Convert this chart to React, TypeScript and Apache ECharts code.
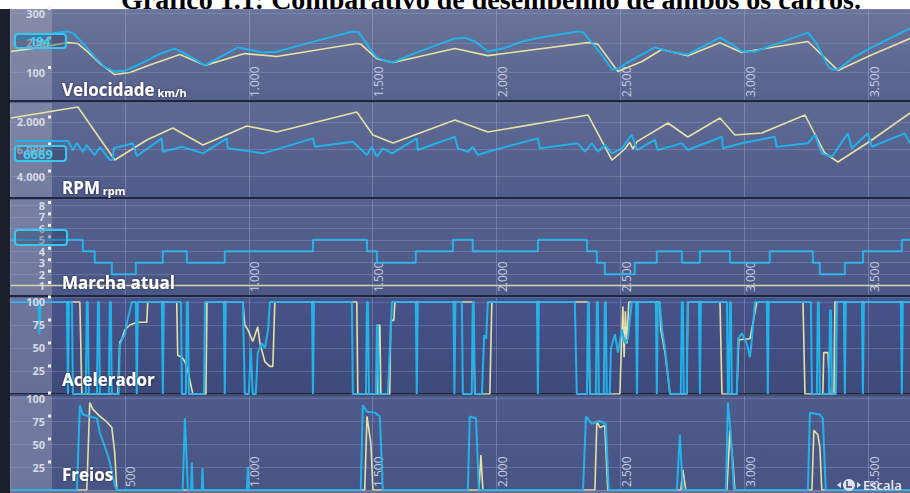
import { useEffect, useRef } from "react";
import * as echarts from "echarts";

// Distance axis (metres)
const X_MIN = 36;
const X_MAX = 3669;
const X_TICKS = [500, 1000, 1500, 2000, 2500, 3000, 3500];
const X_TICK_LABELS = ["500", "1.000", "1.500", "2.000", "2.500", "3.000", "3.500"];

const SPEED_TICKS = [100, 200, 300];
const SPEED_TICK_LABELS = ["100", "200", "300"];
const RPM_TICKS = [4000, 6000, 8000];
const RPM_TICK_LABELS = ["4.000", "6.000", "2.000"];
const GEAR_TICKS = [1, 2, 3, 4, 5, 6, 7, 8];
const GEAR_TICK_LABELS = ["1", "2", "3", "4", "5", "6", "7", "8"];
const PEDAL_TICKS = [25, 50, 75, 100];
const PEDAL_TICK_LABELS = ["25", "50", "75", "100"];

const PANEL_TITLES = ["Velocidade", "RPM", "Marcha atual", "Acelerador", "Freios"];
const PANEL_UNITS = ["km/h", "rpm", "", "", ""];

type Pt = [number, number];

// Velocidade (km/h)
const speedBlue: Pt[] = [
  [56, 214], [150, 222], [237, 236], [270, 239], [292, 232], [338, 192], [378, 152],
  [419, 118], [459, 103], [500, 106], [560, 128], [641, 163], [701, 181], [730, 170],
  [823, 124], [900, 160], [956, 185], [1000, 177], [1057, 168], [1113, 170], [1250, 202],
  [1420, 239], [1444, 236], [1500, 168], [1517, 151], [1549, 140], [1582, 134], [1660, 162],
  [1750, 190], [1832, 215], [1872, 218], [1913, 205], [1965, 171], [2030, 182], [2102, 205],
  [2200, 222], [2328, 239], [2350, 236], [2420, 165], [2466, 110], [2490, 112], [2530, 134],
  [2639, 185], [2700, 170], [2772, 161], [2902, 218], [2950, 195], [2990, 171], [3043, 171],
  [3257, 235], [3290, 200], [3340, 118], [3354, 110], [3378, 110], [3440, 150], [3515, 185],
  [3669, 249],
];
const speedYellow: Pt[] = [
  [40, 171], [157, 185], [270, 201], [310, 198], [350, 170], [400, 130], [459, 93],
  [520, 100], [600, 125], [722, 161], [823, 124], [984, 164], [1113, 154], [1436, 198],
  [1452, 196], [1517, 147], [1582, 134], [1832, 181], [1965, 157], [2369, 201], [2409, 196],
  [2490, 103], [2587, 137], [2667, 178], [2772, 157], [2902, 201], [2990, 168], [3257, 205],
  [3378, 107], [3515, 160], [3669, 215],
];

// RPM
const rpmBlue: Pt[] = [
  [56, 6600], [270, 6593], [290, 5926], [306, 6444], [330, 5778], [346, 6296], [378, 5556],
  [399, 6148], [439, 5185], [451, 5200], [455, 6052], [532, 6420], [548, 5481], [649, 6790],
  [653, 5800], [730, 6170], [815, 5680], [911, 6790], [915, 6050], [1057, 5680], [1259, 6790],
  [1267, 6170], [1420, 6540], [1477, 5556], [1497, 6170], [1517, 5430], [1541, 6050],
  [1578, 5680], [1678, 6790], [1682, 5926], [1832, 6910], [1844, 6050], [1884, 5800],
  [1904, 6170], [1925, 5556], [1965, 5800], [2167, 6790], [2175, 6050], [2328, 6420],
  [2357, 5800], [2385, 6420], [2409, 5800], [2437, 6300], [2466, 5680], [2506, 6050],
  [2530, 6670], [2546, 7040], [2567, 5926], [2639, 6670], [2651, 5926], [2748, 6420],
  [2772, 5926], [2910, 6910], [2914, 6050], [2990, 6420], [3123, 6910], [3131, 6170],
  [3257, 6420], [3285, 7040], [3313, 5680], [3354, 5430], [3418, 7160], [3434, 6050],
  [3499, 7160], [3515, 6170], [3648, 7160], [3669, 6420],
];
const rpmYellow: Pt[] = [
  [40, 8296], [310, 9111], [459, 5185], [588, 6667], [693, 7555], [815, 6296], [992, 7704],
  [1113, 7259], [1436, 8740], [1501, 7037], [1582, 6444], [1832, 8148], [1965, 7259],
  [2369, 8518], [2466, 5185], [2518, 6000], [2538, 6500], [2550, 6000], [2567, 6550],
  [2692, 7926], [2772, 6889], [2902, 8296], [2962, 7037], [3071, 7185], [3245, 8518],
  [3325, 5704], [3378, 5037], [3515, 6667], [3669, 8667],
];

// Marcha atual (gear changes: distance where the new gear starts)
const gearBlue: Pt[] = [
  [40, 5], [330, 4], [378, 3], [447, 2], [544, 3], [653, 4], [750, 3], [903, 4], [1259, 5],
  [1477, 4], [1517, 3], [1674, 4], [1824, 5], [1904, 4], [2167, 5], [2365, 4], [2405, 3],
  [2437, 2], [2558, 3], [2647, 4], [2748, 3], [2821, 4], [2942, 3], [3103, 4], [3277, 3],
  [3305, 2], [3406, 3], [3479, 4], [3636, 5], [3669, 5],
];
const gearYellow: Pt[] = [[40, 1], [3669, 1]];

// Acelerador (%)
const throttleBlue: Pt[] = [
  [40, 100], [150, 100], [155, 65], [160, 100],
  [266, 100], [270, 0], [274, 100], [286, 100], [290, 0],
  [342, 0], [346, 100], [350, 100], [354, 0],
  [387, 0], [391, 100], [395, 100], [399, 0],
  [435, 0], [439, 100], [443, 100], [447, 0],
  [475, 0], [479, 53], [490, 60], [500, 65], [510, 80], [528, 100],
  [544, 100], [548, 0], [552, 100],
  [649, 100], [653, 0], [657, 100],
  [726, 100], [730, 0], [746, 0], [750, 100], [754, 100], [758, 0],
  [819, 0], [823, 100],
  [899, 100], [903, 0], [907, 100],
  [976, 100], [984, 0], [1000, 0], [1008, 50], [1016, 0], [1028, 0], [1036, 45], [1053, 55],
  [1065, 50], [1078, 70], [1085, 100],
  [1255, 100], [1259, 0], [1263, 100],
  [1416, 100], [1420, 0],
  [1473, 0], [1477, 100], [1481, 100], [1485, 0],
  [1513, 0], [1517, 75], [1521, 75], [1525, 0],
  [1561, 0], [1578, 100],
  [1674, 100], [1678, 0], [1682, 100],
  [1826, 100], [1830, 0], [1834, 100],
  [1860, 100], [1864, 0], [1900, 0], [1904, 100], [1908, 100], [1912, 0], [1941, 0],
  [1950, 64], [1958, 60], [1965, 100],
  [2163, 100], [2167, 0], [2171, 100],
  [2316, 100], [2324, 0],
  [2365, 0], [2369, 100], [2373, 100], [2377, 0],
  [2401, 0], [2405, 100], [2409, 100], [2413, 0],
  [2433, 0], [2437, 100], [2441, 100], [2445, 0],
  [2457, 0], [2462, 50], [2478, 65], [2490, 45], [2506, 70], [2518, 55], [2530, 60], [2546, 100],
  [2563, 100], [2567, 0], [2571, 100],
  [2643, 100], [2647, 0], [2651, 100],
  [2659, 100], [2668, 70], [2680, 50], [2700, 0],
  [2744, 0], [2748, 100], [2752, 100], [2756, 0],
  [2768, 0], [2772, 100],
  [2817, 100], [2821, 0], [2825, 100],
  [2930, 100], [2934, 0],
  [2938, 0], [2942, 100], [2946, 100], [2950, 0],
  [2970, 0], [2975, 60], [2990, 66], [3010, 55], [3023, 40], [3031, 60], [3043, 100],
  [3091, 100], [3095, 0], [3099, 100],
  [3269, 100], [3273, 0],
  [3293, 0], [3297, 100], [3301, 100], [3305, 0],
  [3342, 0], [3346, 91], [3350, 91], [3354, 0],
  [3370, 0], [3374, 100],
  [3402, 100], [3406, 0], [3410, 100],
  [3475, 100], [3479, 0], [3483, 100],
  [3632, 100], [3636, 0], [3640, 100],
  [3669, 100],
];
const throttleYellow: Pt[] = [
  [40, 100], [318, 100], [326, 0],
  [471, 0], [479, 56], [488, 60], [500, 70], [520, 75], [548, 78], [588, 78], [592, 100],
  [709, 100], [713, 42], [730, 40], [742, 35], [754, 25], [766, 10], [774, 0],
  [827, 0], [831, 100],
  [976, 100], [984, 75], [996, 70], [1016, 57], [1036, 73], [1045, 55], [1065, 35],
  [1085, 30], [1097, 30], [1105, 100],
  [1436, 100], [1440, 0],
  [1521, 0], [1525, 75], [1529, 75], [1533, 0],
  [1569, 0], [1573, 80], [1585, 80], [1590, 100],
  [1904, 100], [1913, 0],
  [1973, 0], [1981, 100],
  [2369, 100], [2377, 0],
  [2498, 0], [2505, 60], [2510, 95], [2515, 40], [2520, 90], [2526, 55], [2534, 100],
  [2659, 100], [2663, 70], [2680, 45], [2700, 0],
  [2768, 0], [2772, 100],
  [2902, 100], [2910, 0],
  [2970, 0], [2978, 59], [3023, 60], [3051, 100],
  [3237, 100], [3245, 0],
  [3317, 0], [3321, 45], [3338, 45], [3345, 0],
  [3362, 0], [3366, 100],
  [3669, 100],
];

// Freios (%)
const brakeBlue: Pt[] = [
  [40, 0], [306, 0], [318, 92], [330, 82], [358, 80], [387, 78], [399, 62], [427, 41],
  [439, 30], [459, 5], [467, 0],
  [733, 0], [742, 78], [754, 0], [767, 0], [770, 30], [773, 0], [810, 0], [813, 24], [816, 0],
  [992, 0], [996, 25], [1000, 0],
  [1452, 0], [1460, 92], [1477, 85], [1509, 84], [1529, 80], [1541, 0],
  [1884, 0], [1892, 80], [1917, 78], [1929, 0],
  [2349, 0], [2361, 80], [2385, 72], [2417, 75], [2441, 72], [2453, 0],
  [2728, 0], [2740, 60], [2752, 0],
  [2926, 0], [2934, 95], [2946, 60], [2958, 0],
  [3257, 0], [3265, 84], [3305, 82], [3317, 78], [3329, 0],
  [3669, 0],
];
const brakeYellow: Pt[] = [
  [40, 0], [346, 0], [358, 95], [370, 88], [399, 80], [427, 74], [447, 68], [459, 40], [467, 0],
  [1468, 0], [1477, 80], [1485, 65], [1493, 50], [1501, 0],
  [1929, 0], [1937, 38], [1945, 0],
  [2397, 0], [2405, 75], [2417, 68], [2437, 70], [2449, 0],
  [2744, 0], [2752, 22], [2764, 0],
  [2930, 0], [2942, 65], [2954, 30], [2962, 0],
  [3273, 0], [3281, 65], [3297, 60], [3305, 47], [3313, 0],
  [3669, 0],
];

const BLUE = "#22b2ea";
const YELLOW = "#e4e2a4";

type Panel = {
  top: number;
  height: number;
  min: number;
  max: number;
  interval?: number;
  splitNumber?: number;
  ticks: number[];
  labels: string[];
  labelLine: number;
  showX: boolean;
  skipX: number[];
  xMargin: number;
  titleBaseline: number;
  bg: [string, string];
  blue: Pt[];
  yellow: Pt[];
  step?: boolean;
};

const PANELS: Panel[] = [
  {
    top: 9, height: 93, min: 0, max: 315, interval: 100, ticks: SPEED_TICKS, labels: SPEED_TICK_LABELS,
    labelLine: 13, showX: true, skipX: [500], xMargin: 5, titleBaseline: 95, bg: ["#6b7499", "#56628e"],
    blue: speedBlue, yellow: speedYellow,
  },
  {
    top: 102, height: 97, min: 2300, max: 9480, splitNumber: 3, ticks: RPM_TICKS, labels: RPM_TICK_LABELS,
    labelLine: 13, showX: false, skipX: [], xMargin: 5, titleBaseline: 193, bg: ["#5f6a94", "#505c8a"],
    blue: rpmBlue, yellow: rpmYellow,
  },
  {
    top: 199, height: 98, min: 0, max: 8.57, interval: 1, ticks: GEAR_TICKS, labels: GEAR_TICK_LABELS,
    labelLine: 9, showX: true, skipX: [500], xMargin: 5, titleBaseline: 288, bg: ["#57628e", "#4b5785"],
    blue: gearBlue, yellow: gearYellow, step: true,
  },
  {
    top: 297, height: 97, min: 0, max: 105.4, interval: 25, ticks: PEDAL_TICKS, labels: PEDAL_TICK_LABELS,
    labelLine: 13, showX: false, skipX: [], xMargin: 5, titleBaseline: 385, bg: ["#47538a", "#3e4a7a"],
    blue: throttleBlue, yellow: throttleYellow,
  },
  {
    top: 395, height: 95, min: 0, max: 103.3, interval: 25, ticks: PEDAL_TICKS, labels: PEDAL_TICK_LABELS,
    labelLine: 13, showX: true, skipX: [], xMargin: 3, titleBaseline: 480, bg: ["#4f5c8b", "#485584"],
    blue: brakeBlue, yellow: brakeYellow,
  },
];

const yFormatter = (ticks: number[], labels: string[]) => (v: number) => {
  const i = ticks.findIndex((t) => Math.abs(t - v) < 1e-6);
  return i < 0 ? "" : `{n|${labels[i]}}{s|}{d|}`;
};

const xFormatter = (skip: number[]) => (v: number) => {
  const i = X_TICKS.findIndex((t) => Math.abs(t - v) < 1e-6);
  if (i < 0 || skip.includes(X_TICKS[i])) return "";
  return X_TICK_LABELS[i];
};

function buildOption(): echarts.EChartsCoreOption {
  const grid = PANELS.map((p) => ({ left: 10, right: 0, top: p.top, height: p.height, containLabel: false }));

  const xAxis = PANELS.map((p, i) => ({
    gridIndex: i,
    type: "value",
    min: X_MIN,
    max: X_MAX,
    splitNumber: 7,
    axisLine: { show: false },
    axisTick: { show: false },
    splitLine: { show: true, lineStyle: { color: "rgba(178,192,228,0.32)", width: 1 } },
    axisLabel: {
      show: p.showX,
      inside: true,
      rotate: 90,
      verticalAlign: "top",
      margin: p.xMargin,
      color: "#c9cee0",
      fontSize: 12,
      fontFamily: "Open Sans",
      formatter: xFormatter(p.skipX),
    },
  }));

  const yAxis = PANELS.map((p, i) => ({
    gridIndex: i,
    type: "value",
    min: p.min,
    max: p.max,
    ...(p.interval !== undefined ? { interval: p.interval } : { splitNumber: p.splitNumber }),
    offset: -42,
    z: 3,
    axisLine: { show: false },
    axisTick: { show: false },
    splitLine: { show: true, lineStyle: { color: "rgba(160,175,215,0.28)", width: 1 } },
    axisLabel: {
      margin: 1,
      formatter: yFormatter(p.ticks, p.labels),
      rich: {
        n: { fontSize: 11, lineHeight: p.labelLine, fontWeight: "bold", color: "#d6d9e6", fontFamily: "Open Sans" },
        s: { width: 3, lineHeight: p.labelLine },
        d: { width: 3, height: 3, backgroundColor: "#eef0f6", verticalAlign: "top" },
      },
    },
  }));

  const series: any[] = [];
  PANELS.forEach((p, i) => {
    series.push({
      type: "line",
      xAxisIndex: i,
      yAxisIndex: i,
      data: p.yellow,
      showSymbol: false,
      symbol: "none",
      step: p.step ? "end" : false,
      lineStyle: { color: YELLOW, width: 1.6 },
      z: 2,
    });
    series.push({
      type: "line",
      xAxisIndex: i,
      yAxisIndex: i,
      data: p.blue,
      showSymbol: false,
      symbol: "none",
      step: p.step ? "end" : false,
      lineStyle: { color: BLUE, width: 2 },
      z: 2,
    });
  });

  const graphic: any[] = [];

  // Heading above the screen
  graphic.push({
    type: "text",
    z: -20,
    style: {
      text: "Gráfico 1.1: Comparativo de desempenho de ambos os carros.",
      x: 491,
      y: -1,
      align: "center",
      verticalAlign: "middle",
      font: "bold 28px 'Liberation Serif', 'Times New Roman', serif",
      fill: "#000000",
    },
  });

  // Panel backgrounds
  PANELS.forEach((p) => {
    graphic.push({
      type: "rect",
      z: -10,
      shape: { x: 10, y: p.top, width: 900, height: p.height },
      style: {
        fill: new echarts.graphic.LinearGradient(0, 0, 0, 1, [
          { offset: 0, color: p.bg[0] },
          { offset: 1, color: p.bg[1] },
        ]),
      },
    });
  });

  // Bottom strip and dark bezel
  graphic.push({ type: "rect", z: -9, shape: { x: 0, y: 490, width: 910, height: 3 }, style: { fill: "#6a7396" } });
  graphic.push({ type: "rect", z: -5, shape: { x: 0, y: 9, width: 10, height: 484 }, style: { fill: "#1b1f2b" } });

  // Label column overlay
  graphic.push({
    type: "rect",
    z: 1,
    shape: { x: 10, y: 9, width: 42, height: 481 },
    style: { fill: "rgba(188,188,200,0.33)" },
  });

  // Panel separators
  PANELS.slice(1).forEach((p) => {
    graphic.push({
      type: "rect",
      z: 1,
      shape: { x: 10, y: p.top - 2, width: 900, height: 3 },
      style: { fill: "#1e2643" },
    });
  });

  // Panel titles
  PANELS.forEach((p, i) => {
    const unit = PANEL_UNITS[i];
    graphic.push({
      type: "text",
      z: 10,
      style: {
        text: unit ? `{a|${PANEL_TITLES[i]}}{b| ${unit}}` : `{a|${PANEL_TITLES[i]}}`,
        x: 62,
        y: p.titleBaseline - 6.6,
        verticalAlign: "middle",
        align: "left",
        textShadowColor: "rgba(10,15,40,0.55)",
        textShadowBlur: 3,
        rich: {
          a: { fontSize: 17, fontWeight: "bold", fontFamily: "Open Sans", fill: "#ffffff", lineHeight: 20, verticalAlign: "bottom" },
          b: { fontSize: 11, fontWeight: "bold", fontFamily: "Open Sans", fill: "#ffffff", lineHeight: 14, verticalAlign: "bottom" },
        },
      },
    });
  });

  // Cursor readout boxes
  const boxStyle = { stroke: "#35c8f0", lineWidth: 2, fill: "rgba(35,55,95,0.35)" };
  graphic.push({ type: "rect", z: 12, shape: { x: 15, y: 34, width: 51, height: 14, r: 3 }, style: boxStyle });
  graphic.push({ type: "rect", z: 12, shape: { x: 15, y: 146, width: 51, height: 15, r: 3 }, style: boxStyle });
  graphic.push({ type: "rect", z: 12, shape: { x: 15, y: 230, width: 52, height: 15, r: 3 }, style: boxStyle });
  graphic.push({
    type: "text",
    z: 13,
    style: { text: "194", x: 40, y: 41, align: "center", verticalAlign: "middle", font: "bold 12px 'Open Sans'", fill: "#3fd3f5" },
  });
  graphic.push({
    type: "text",
    z: 13,
    style: { text: "6669", x: 38, y: 153.5, align: "center", verticalAlign: "middle", font: "bold 13px 'Open Sans'", fill: "#3fd3f5" },
  });

  // Scale control, bottom right
  graphic.push({ type: "circle", z: 10, shape: { cx: 849, cy: 485, r: 6 }, style: { fill: "#dfe3ee" } });
  graphic.push({
    type: "polyline",
    z: 11,
    shape: { points: [[847, 481], [847, 487], [852, 487]] },
    style: { stroke: "#3c4670", lineWidth: 1.5, fill: "none" },
  });
  graphic.push({ type: "polygon", z: 10, shape: { points: [[837, 485], [841, 482], [841, 488]] }, style: { fill: "#dfe3ee" } });
  graphic.push({ type: "polygon", z: 10, shape: { points: [[861, 485], [857, 482], [857, 488]] }, style: { fill: "#dfe3ee" } });
  graphic.push({
    type: "text",
    z: 10,
    style: { text: "Escala", x: 863, y: 485, align: "left", verticalAlign: "middle", font: "600 13px 'Open Sans'", fill: "#eef0f6" },
  });

  return {
    animation: false,
    backgroundColor: "#ffffff",
    grid,
    xAxis,
    yAxis,
    series,
    graphic,
  };
}

export default function App() {
  const ref = useRef<HTMLDivElement>(null);
  useEffect(() => {
    if (!ref.current) return;
    const chart = echarts.init(ref.current, undefined, { renderer: "svg" });
    chart.setOption(buildOption());
    return () => chart.dispose();
  }, []);
  return <div ref={ref} style={{ position: "fixed", left: 0, top: 0, width: 910, height: 493 }} />;
}
